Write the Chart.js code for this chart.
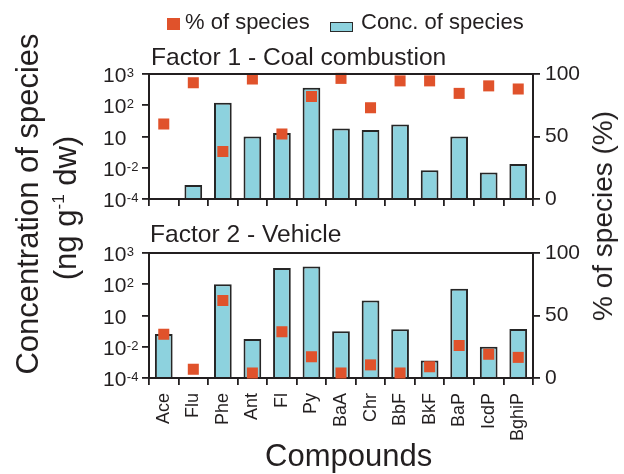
<!DOCTYPE html>
<html>
<head>
<meta charset="utf-8">
<script src="https://cdn.jsdelivr.net/npm/chart.js@4.4.1/dist/chart.umd.min.js"></script>
<style>
  html, body { margin: 0; padding: 0; background: #fff; }
  #wrap { position: relative; width: 624px; height: 474px; overflow: hidden;
          font-family: 'Liberation Sans', Arial, sans-serif; color: #231f20; }
  #wrap canvas { position: absolute; left: 0; top: 0; }
  .txt { position: absolute; white-space: nowrap; line-height: 1; }
  .rot { position: absolute; white-space: nowrap; line-height: 1;
         transform: translate(-50%, -50%) rotate(-90deg); }
  sup { font-size: 0.55em; vertical-align: 0.65em; line-height: 0; }
</style>
</head>
<body>
<div id="wrap">
  <canvas id="panel1" width="624" height="474"></canvas>
  <canvas id="panel2" width="624" height="474"></canvas>

  <!-- legend -->
  <div style="position:absolute; left:167px; top:18px; width:13px; height:12px; background:#e0522b;"></div>
  <div class="txt" style="left:185px; top:11px; font-size:22px;">% of species</div>
  <div style="position:absolute; left:330px; top:22px; width:23px; height:10px; box-sizing:border-box;
              background:#8dd2de; border:1.5px solid #2b2b2b;"></div>
  <div class="txt" style="left:361px; top:11px; font-size:22px;">Conc. of species</div>

  <!-- panel titles -->
  <div class="txt" style="left:151px; top:45px; font-size:24.6px;">Factor 1 - Coal combustion</div>
  <div class="txt" style="left:150px; top:222px; font-size:24.6px;">Factor 2 - Vehicle</div>

  <!-- axis titles -->
  <div class="rot" style="left:27px; top:204px; font-size:31px;">Concentration of species</div>
  <div class="rot" style="left:65px; top:208px; font-size:31px;">(ng g<sup>-1</sup> dw)</div>
  <div class="rot" style="left:603px; top:216px; font-size:28px;">% of species (%)</div>
  <div class="txt" style="left:265px; top:440px; font-size:31px;">Compounds</div>
</div>

<script>
// categories and values
const compounds = ['Ace', 'Flu', 'Phe', 'Ant', 'Fl', 'Py', 'BaA', 'Chr', 'BbF', 'BkF', 'BaP', 'IcdP', 'BghiP'];

// Factor 1 - Coal combustion
const coalConc = [null, 8e-4, 120, 10, 13, 360, 18, 16, 24, 0.007, 10, 0.005, 0.023];   // ng/g dw
const coalPct  = [60, 93, 38, 96, 52, 82, 96.5, 73, 94.5, 94.5, 84.5, 90.5, 88];       // %

// Factor 2 - Vehicle
const vehicleConc = [0.17, null, 100, 0.056, 330, 370, 0.3, 30, 0.47, 0.0013, 72, 0.01, 0.5];
const vehiclePct  = [35, 7, 62, 4, 37, 17, 4, 10.5, 4, 9, 26, 19, 16.5];

// tick values of both axes
const concTicks = [1e-4, 1e-2, 10, 100, 1000];
const pctTicks = [0, 50, 100];

const INK = '#231f20';
const BAR_FILL = '#8dd2de';
const BAR_EDGE = '#262626';
const SQUARE = '#e0522b';
const FAMILY = "'Liberation Sans', Arial, sans-serif";

Chart.defaults.font.family = FAMILY;
Chart.defaults.color = INK;

// The concentration axis puts its ticks at equal steps although the
// decades between them differ, so a value is placed by interpolating
// log10 between the two ticks around it (tick i sits at axis value i).
function toAxis(v) {
    if (v == null) return null;
    const lv = Math.log10(v);
    const logs = concTicks.map(t => Math.log10(t));
    for (let i = 0; i < logs.length - 1; i++) {
        if (lv <= logs[i + 1] || i === logs.length - 2) {
            return i + (lv - logs[i]) / (logs[i + 1] - logs[i]);
        }
    }
}

// "10" with a raised exponent for the left axis
const concLabels = {
    id: 'concLabels',
    afterDraw(chart) {
        const ctx = chart.ctx;
        const s = chart.scales.y;
        ctx.save();
        ctx.fillStyle = INK;
        ctx.textAlign = 'left';
        ctx.textBaseline = 'alphabetic';
        concTicks.forEach((v, i) => {
            const y = s.getPixelForValue(i);
            const exp = Math.round(Math.log10(v));
            ctx.font = '21px ' + FAMILY;
            ctx.fillText('10', 103, y + 8);
            if (exp !== 1) {
                const w = ctx.measureText('10').width;
                ctx.font = '13px ' + FAMILY;
                ctx.fillText(String(exp), 103 + w + 0.5, y + 3);
            }
        });
        ctx.restore();
    }
};

// line closing the top of each panel
const frameTop = {
    id: 'frameTop',
    afterDraw(chart) {
        const { left, right, top } = chart.chartArea;
        const ctx = chart.ctx;
        ctx.save();
        ctx.strokeStyle = INK;
        ctx.lineWidth = 2;
        ctx.beginPath();
        ctx.moveTo(left - 1, top);
        ctx.lineTo(right + 1, top);
        ctx.stroke();
        ctx.restore();
    }
};

function makePanel(id, conc, pct, padTop, padBottom, xHeight, showNames) {
    const axisGrid = { drawOnChartArea: false, drawTicks: true, tickLength: 7, color: INK, lineWidth: 1.8 };
    const axisBorder = { display: true, color: INK, width: 2 };

    new Chart(document.getElementById(id), {
        type: 'bar',
        data: {
            labels: compounds,
            datasets: [{
                type: 'line',
                label: '% of species',
                data: pct,
                yAxisID: 'y1',
                showLine: false,
                pointStyle: 'rect',
                pointRadius: 7.8,
                pointHoverRadius: 7.8,
                pointBackgroundColor: SQUARE,
                pointBorderWidth: 0,
                borderColor: SQUARE,
                clip: false,
                order: 0
            }, {
                label: 'Conc. of species',
                data: conc.map(toAxis),
                yAxisID: 'y',
                backgroundColor: BAR_FILL,
                borderColor: BAR_EDGE,
                borderWidth: 2,
                barPercentage: 0.6,
                categoryPercentage: 1,
                order: 1
            }]
        },
        options: {
            responsive: false,
            animation: false,
            layout: { padding: { top: padTop, bottom: padBottom, left: 0, right: 0 } },
            plugins: {
                legend: { display: false },
                tooltip: { enabled: false }
            },
            scales: {
                x: {
                    afterFit: s => { s.height = xHeight; },
                    grid: { ...axisGrid, offset: true },
                    border: axisBorder,
                    ticks: {
                        display: showNames,
                        autoSkip: false,
                        minRotation: 90,
                        maxRotation: 90,
                        padding: 8,
                        color: INK,
                        font: { size: 18 }
                    }
                },
                y: {
                    position: 'left',
                    min: 0,
                    max: concTicks.length - 1,
                    afterFit: s => { s.width = 149; },
                    afterBuildTicks: s => { s.ticks = concTicks.map((_, i) => ({ value: i })); },
                    ticks: { display: false },
                    grid: axisGrid,
                    border: axisBorder
                },
                y1: {
                    position: 'right',
                    min: 0,
                    max: 100,
                    afterFit: s => { s.width = 91; },
                    afterBuildTicks: s => { s.ticks = pctTicks.map(v => ({ value: v })); },
                    ticks: { padding: 5, color: INK, font: { size: 21 } },
                    grid: axisGrid,
                    border: axisBorder
                }
            }
        },
        plugins: [concLabels, frameTop]
    });
}

// top panel: plot area 74..199, bottom panel: 253..378
makePanel('panel1', coalConc, coalPct, 74, 474 - 199 - 10, 10, false);
makePanel('panel2', vehicleConc, vehiclePct, 253, 474 - 378 - 80, 80, true);
</script>
</body>
</html>
